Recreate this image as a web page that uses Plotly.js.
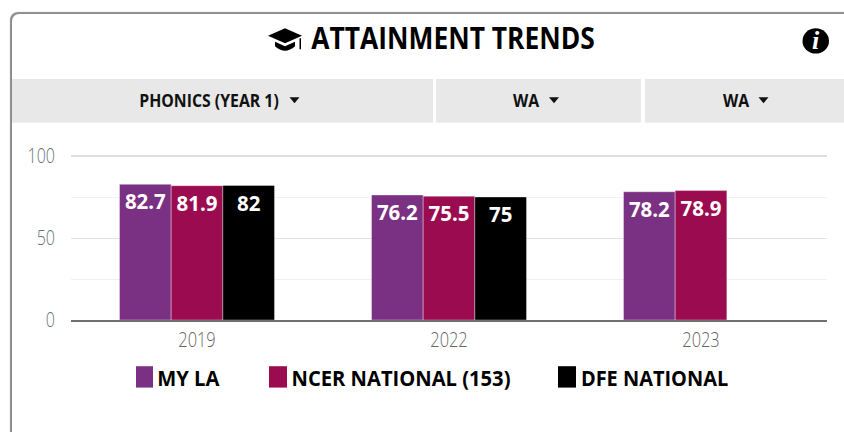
<!DOCTYPE html>
<html><head><meta charset="utf-8">
<script src="https://cdn.plot.ly/plotly-3.0.1.min.js"></script>
<style>
html,body{margin:0;padding:0;width:844px;height:432px;overflow:hidden;background:#fff}
#card{position:absolute;left:12px;top:14px;width:900px;height:500px;border-radius:7px;background:#fff;box-shadow:-1px -1px 1px 1px #8a8a8a}
#chart{position:absolute;left:0;top:0;width:844px;height:432px}
</style></head><body>
<div id="card"></div><div id="chart"></div>
<script>
const years = ['2019','2022','2023'];
const seriesNames = ['MY LA','NCER NATIONAL (153)','DFE NATIONAL'];
const myLa = [82.7,76.2,78.2];
const ncer = [81.9,75.5,78.9];
const dfe = [82,75,null];
const seriesColors = ['#7b3183','#9a0c4f','#000000'];
const title = 'ATTAINMENT TRENDS';
const selectors = ['PHONICS (YEAR 1)','WA','WA'];

const W=844,H=432,L=71,R=827,T=155.5,B=320.5;
const px=x=>(x-L)/(R-L), py=y=>(B-y)/(B-T);
const FONT='"Open Sans", sans-serif';

const traces=[myLa,ncer,dfe].map((v,i)=>({
  type:'bar',name:seriesNames[i],x:years,y:v,
  text:v.map(d=>d==null?'':String(d)),textposition:'inside',insidetextanchor:'end',textangle:0,
  constraintext:'none',
  insidetextfont:{family:FONT,size:22,color:'#fff',weight:700},
  marker:{color:seriesColors[i],line:{color:'rgba(255,255,255,0.35)',width:1}},
  hoverinfo:'x+y+name'
}));

const paperPath=(d,fill)=>({type:'path',xref:'paper',yref:'paper',path:d,fillcolor:fill,line:{width:0},layer:'above'});
const P=(x,y)=>px(x)+','+py(y);
const rect=(x0,x1,y0,y1,c)=>({type:'rect',xref:'paper',yref:'paper',x0:px(x0),x1:px(x1),y0:py(y0),y1:py(y1),fillcolor:c,line:{width:0},layer:'below'});
const tri=(cx,cy)=>paperPath('M'+P(cx-5,cy-3)+' L'+P(cx+5,cy-3)+' L'+P(cx,cy+3)+' Z','#111');

const shapes=[
  rect(12,433,78,122,'#e8e8e8'),rect(436,641,78,122,'#e8e8e8'),rect(645,844,78,122,'#e8e8e8'),
  tri(294.5,99.5),tri(554,99.5),tri(763.5,99.5),
  paperPath('M'+P(285,27)+' L'+P(302,34.5)+' L'+P(285,42)+' L'+P(268,34.5)+' Z','#000'),
  paperPath('M'+P(275,40.5)+' L'+P(285,45)+' L'+P(295,40.5)+' L'+P(295,45)+' Q'+P(285,54)+' '+P(275,45)+' Z','#000'),
  paperPath('M'+P(299.5,37)+' L'+P(301,37)+' L'+P(301,48)+' L'+P(299.5,48)+' Z','#000'),
  {type:'circle',xref:'paper',yref:'paper',x0:px(802.5),x1:px(829),y0:py(52.5),y1:py(27),fillcolor:'#000',line:{width:0},layer:'below'},
  {type:'line',xref:'paper',yref:'paper',x0:0,x1:1,y0:1,y1:1,line:{color:'#e0e0e0',width:2},layer:'below'},
  rect(136,153,367,388.5,seriesColors[0]),rect(269,287,367,388.5,seriesColors[1]),rect(558,576,367,388.5,seriesColors[2])
];
const note=(text,x,y,size,color,extra)=>Object.assign({text,xref:'paper',yref:'paper',x:px(x),y:py(y),xanchor:'center',yanchor:'middle',showarrow:false,
  font:{family:FONT,size,color,weight:700}},extra||{});
const annotations=[
  note(title,453,36.5,30,'#000'),
  note('<i>i</i>',815.5,39.5,21,'#fff',{font:{family:'"Liberation Serif", serif',size:26,color:'#fff',weight:700}}),
  note(selectors[0],208.5,100,17,'#111'),note(selectors[1],525.5,100,17,'#111'),note(selectors[2],735.5,100,17,'#111'),
  note(seriesNames[0],154,379,21,'#000',{xanchor:'left'}),
  note(seriesNames[1],284.5,379,21,'#000',{xanchor:'left'}),
  note(seriesNames[2],574.5,379,21,'#000',{xanchor:'left'})
];

Plotly.newPlot('chart',traces,{
  width:W,height:H,margin:{l:L,r:W-R,t:T,b:H-B,pad:0},
  paper_bgcolor:'rgba(0,0,0,0)',plot_bgcolor:'rgba(0,0,0,0)',
  barmode:'group',bargap:0.385,bargroupgap:0,showlegend:false,
  xaxis:{type:'category',categoryorder:'array',categoryarray:years,showline:true,linecolor:'#707070',linewidth:2,ticks:'',showgrid:false,
    tickfont:{family:FONT,size:20,color:'#666666',weight:300},ticklen:0,automargin:false},
  yaxis:{range:[0,100],tickmode:'linear',tick0:0,dtick:50,showgrid:true,gridcolor:'#e2e2e2',gridwidth:1,zeroline:false,showline:false,
    tickfont:{family:FONT,size:20,color:'#66727e',weight:300},ticks:'outside',ticklen:11,tickcolor:'rgba(0,0,0,0)',
    minor:{dtick:25,tick0:0,showgrid:true,gridcolor:'#f1f1f1',gridwidth:1,ticks:''},automargin:false},
  shapes,annotations,hovermode:'closest'
},{displayModeBar:false,responsive:false}).then(gd=>{
  // The reference face is a condensed cut: narrow the real text without changing its height.
  const squeeze=(sel,f)=>gd.querySelectorAll(sel).forEach(t=>{
    const w=t.getComputedTextLength();
    if(w>0){t.setAttribute('textLength',w*f);t.setAttribute('lengthAdjust','spacingAndGlyphs');}
  });
  squeeze('.xtick text',0.82);squeeze('.ytick text',0.8);squeeze('.bartext',0.93);
  gd.querySelectorAll('.bartext').forEach(t=>t.setAttribute('dy','-2'));
  gd.querySelectorAll('.xtick text').forEach(t=>t.setAttribute('dy','1'));
  const factor={[title]:0.88,[selectors[0]]:0.93,[selectors[1]]:0.93,[seriesNames[0]]:0.96,[seriesNames[1]]:0.96,[seriesNames[2]]:0.95};
  gd.querySelectorAll('.annotation-text').forEach(t=>{
    const f=factor[t.textContent];
    if(f){t.setAttribute('textLength',t.getComputedTextLength()*f);t.setAttribute('lengthAdjust','spacingAndGlyphs');}
  });
});
</script></body></html>
